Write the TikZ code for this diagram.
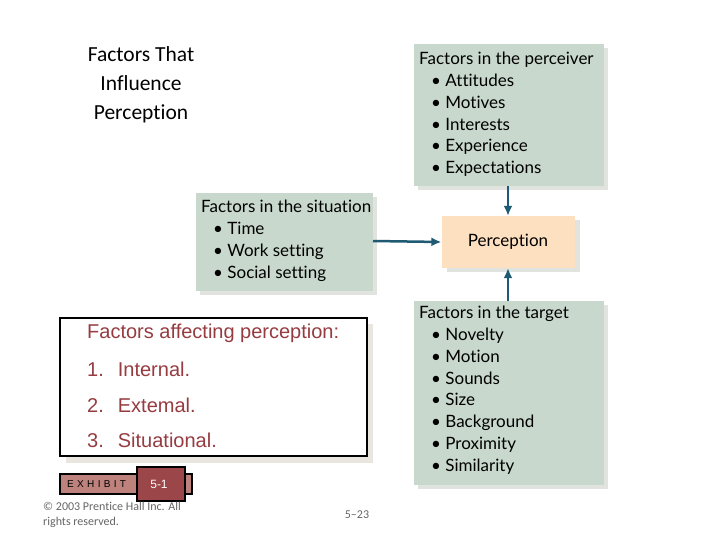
\documentclass[tikz,border=0pt]{standalone}
\usepackage{fontspec}
\usetikzlibrary{arrows.meta}
\setmainfont{Liberation Sans}
\newfontfamily\boxf[Ligatures=NoCommon]{Lato}
\newfontfamily\calf[Ligatures=NoCommon]{Carlito}
\definecolor{gfill}{RGB}{200,216,204}
\definecolor{shd}{RGB}{225,228,222}
\definecolor{peach}{RGB}{253,224,192}
\definecolor{arrc}{RGB}{30,90,115}
\definecolor{redt}{RGB}{150,60,65}
\definecolor{beige}{RGB}{232,230,222}
\definecolor{exa}{RGB}{190,130,125}
\definecolor{exb}{RGB}{155,70,72}
\begin{document}
\begin{tikzpicture}[x=1pt,y=-1pt,
  gbox/.style={fill=gfill},
  shade/.style={fill=shd},
  lst/.style={anchor=north west,align=left,font=\boxf\fontsize{17}{21.8}\selectfont,inner sep=0pt},
  arr/.style={draw=arrc,line width=2.5pt,-{Latex[length=10pt,width=9pt]}},
  redtxt/.style={text=redt,anchor=west,inner sep=0pt,font=\fontsize{20}{23}\selectfont}]
\useasboundingbox (0,0) rectangle (720,540);
\fill[white] (0,0) rectangle (720,540);
\node[font=\calf\fontsize{21.5}{29}\selectfont,align=center] (title) at (141,85) {Factors That\\Influence\\Perception};
% perceiver
\fill[shade] (418,48) rectangle (608,190);
\fill[gbox] (414,44) rectangle (604,186);
\coordinate (pb) at (508,186);
\node[lst] (per) at (419,52) {Factors in the perceiver\\
\hspace*{12pt}• Attitudes\\\hspace*{12pt}• Motives\\\hspace*{12pt}• Interests\\\hspace*{12pt}• Experience\\\hspace*{12pt}• Expectations};
% situation
\fill[shade] (200,197) rectangle (377,295);
\fill[gbox] (196,193) rectangle (373,291);
\coordinate (sr) at (373,241);
\node[lst] (sit) at (201,200) {Factors in the situation\\
\hspace*{12pt}• Time\\\hspace*{12pt}• Work setting\\\hspace*{12pt}• Social setting};
% perception
\fill[shade] (447,220) rectangle (580,272);
\node[fill=peach,minimum width=133pt,minimum height=52pt,inner sep=0pt,font=\boxf\fontsize{17}{20}\selectfont] (pc) at (508,242) {Perception};
% target
\fill[shade] (418,305) rectangle (608,489);
\fill[gbox] (414,301) rectangle (604,485);
\coordinate (tt) at (508,301);
\node[lst] (tar) at (419,306) {Factors in the target\\
\hspace*{12pt}• Novelty\\\hspace*{12pt}• Motion\\\hspace*{12pt}• Sounds\\\hspace*{12pt}• Size\\\hspace*{12pt}• Background\\\hspace*{12pt}• Proximity\\\hspace*{12pt}• Similarity};
\draw[arr] (pb) -- (pc.north);
\draw[arr] (sr) -- (pc.west);
\draw[arr] (tt) -- (pc.south);
% black box
\fill[beige] (66,324) rectangle (373,463);
\draw[line width=2.5pt,fill=white] (60,318) rectangle (367,456);
\node[redtxt] (h) at (87,333) {Factors affecting perception:};
\node[redtxt] (i1) at (87,369) {1.\hspace{14pt}Internal.};
\node[redtxt] (i2) at (87,405) {2.\hspace{14pt}Extemal.};
\node[redtxt] (i3) at (87,440) {3.\hspace{14pt}Situational.};
% exhibit
\draw[line width=2pt,fill=exa] (60,474) rectangle (192,494);
\node[anchor=west,font=\fontsize{10}{11}\selectfont,inner sep=0pt] (ex) at (67,484) {E\,\,X\,\,H\,\,I\,\,B\,\,I\,\,T};
\draw[line width=2pt,fill=exb] (137,467) rectangle (185,501);
\node[text=white,font=\fontsize{12}{13}\selectfont] (no) at (159,484) {5-1};
\node[anchor=north west,align=left,text=gray!80!black,font=\calf\fontsize{12}{15}\selectfont,inner sep=0pt] (cp) at (43,502) {© 2003 Prentice Hall Inc. All\\rights reserved.};
\node[text=gray!80!black,font=\calf\fontsize{12}{13}\selectfont] (pg) at (357,515) {5–23};
\end{tikzpicture}
\end{document}
